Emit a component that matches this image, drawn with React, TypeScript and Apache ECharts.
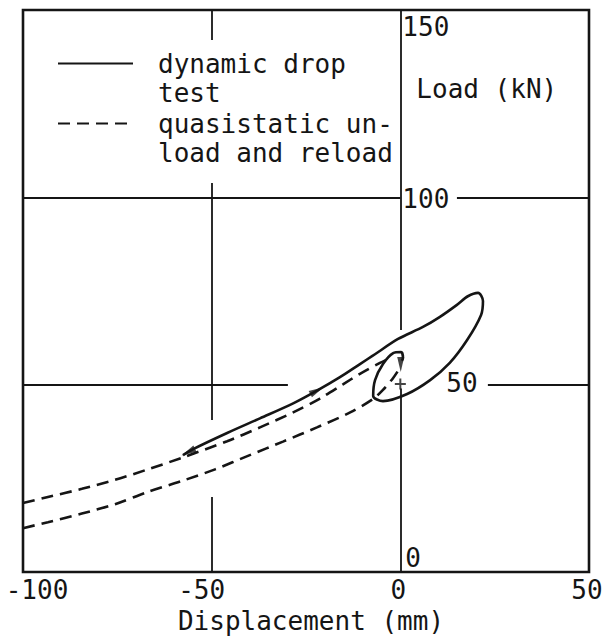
import React, { useEffect, useRef } from 'react';
import * as echarts from 'echarts';

// ---- data ----
const xTicks = { min: -100, max: 50, step: 50 };
const yTicks = { min: 0, max: 150, step: 50 };
const xAxisTitle = 'Displacement (mm)';
const yAxisTitle = 'Load (kN)';
const seriesNames = ['dynamic drop test', 'quasistatic unload and reload'];
const legendLabels = ['dynamic drop\ntest', 'quasistatic un-\nload and reload'];

// solid curve: dynamic drop test (displacement mm, load kN)
const dynamicDrop: number[][] = [
  [-57.6, 31.2], [-54.9, 32.8], [-45.9, 37.1], [-37.2, 41.0], [-28.4, 45.0],
  [-22.1, 48.4], [-16.0, 52.0], [-10.7, 55.5], [-7.2, 57.8], [-0.6, 62.2],
  [6.0, 65.4], [10.5, 68.1], [15.0, 71.3], [17.9, 73.6], [20.6, 74.5],
  [21.9, 72.3], [21.4, 68.6], [17.7, 61.9], [13.1, 55.8], [7.9, 51.2],
  [1.8, 47.5], [-4.6, 45.6], [-7.2, 47.0], [-6.7, 51.2], [-4.6, 55.5],
  [-1.9, 58.4], [0.2, 58.7], [0.7, 57.1], [0.4, 56.4],
];

// dashed curves: quasistatic reload (upper) and unload (lower)
const quasiReload: number[][] = [
  [-100, 18.4], [-93.4, 20.0], [-84.4, 22.2], [-75.6, 24.6], [-66.9, 27.4],
  [-57.6, 30.6], [-45.9, 34.9], [-37.2, 38.6], [-28.4, 42.6], [-21.3, 46.3],
  [-15.2, 50.1], [-10.7, 52.9], [-5.4, 55.8], [-2.2, 57.3],
];
const quasiUnload: number[][] = [
  [-100, 11.7], [-93.4, 13.3], [-84.4, 15.6], [-75.6, 18.1], [-66.9, 21.4],
  [-57.9, 24.3], [-49.1, 27.4], [-39.9, 31.2], [-31.1, 34.8], [-22.1, 38.6],
  [-13.3, 42.6], [-7.2, 46.2], [-4.6, 48.6], [-1.9, 51.8], [-0.3, 54.2],
];

// arrowheads on the solid curve and the cross mark
const arrowHeads: number[][] = [[-56.2, 32.0], [-22.1, 48.4], [0.1, 55.4]];
const arrowAngles = [117, -62, 180];
const crossMark: number[][] = [[0, 50.2]];

// interrupted reference lines of the original drawing
const gridSegments: number[][][] = [
  [[-100, 100], [0, 100]], [[15, 100], [50, 100]],
  [[-100, 50], [-29.8, 50]], [[23.2, 50], [50, 50]],
  [[-50, 150], [-50, 142]], [[-50, 103.8], [-50, 40.6]], [[-50, 20], [-50, 0]],
  [[0, 0], [0, 49]], [[0, 64.6], [0, 150]],
];

const FONT = "'DejaVu Sans Mono', 'Liberation Mono', monospace";
const INK = '#151515';
const FS = 26;

export default function App() {
  const ref = useRef<HTMLDivElement>(null);
  useEffect(() => {
    if (!ref.current) return;
    const chart = echarts.init(ref.current, null, { renderer: 'svg' });
    const txt = (extra: any = {}) => ({ fontFamily: FONT, fontSize: FS, color: INK, lineHeight: FS, ...extra });
    const dashed = { color: INK, width: 2.6, type: [12, 7] as any };
    const gridLeft = 23;
    const gridWidth = 566;
    // y axis drawn at x = 0 of the displacement axis
    const yAxisShift = -(gridWidth * (0 - xTicks.min)) / (xTicks.max - xTicks.min);
    chart.setOption({
      animation: false,
      backgroundColor: '#fff',
      grid: {
        left: gridLeft, top: 10, width: gridWidth, height: 562,
        show: true, borderColor: INK, borderWidth: 2.6, backgroundColor: 'transparent',
        containLabel: false, outerBoundsMode: 'none',
      },
      legend: {
        data: seriesNames,
        orient: 'vertical',
        left: 57, top: 20, padding: 0, itemGap: -27,
        itemWidth: 75, itemHeight: 14,
        selectedMode: false,
        itemStyle: { opacity: 0 },
        formatter: (n: string) => '\n' + legendLabels[seriesNames.indexOf(n)],
        textStyle: { fontFamily: FONT, fontSize: FS, lineHeight: 29, color: INK, padding: [0, 0, 0, 20] },
      },
      xAxis: {
        type: 'value', min: xTicks.min, max: xTicks.max, interval: xTicks.step,
        axisLine: { show: false, onZero: false }, axisTick: { show: false }, splitLine: { show: false },
        axisLabel: {
          margin: 5,
          formatter: (v: number) => (v === xTicks.min ? `{first|${v}}` : v < 0 ? `{neg|${v}}` : `{n|${v}}`),
          rich: {
            first: txt({ padding: [0, 0, 0, 28] }),
            neg: txt({ padding: [0, 20, 0, 0] }),
            n: txt({ padding: [0, 4, 0, 0] }),
          },
        },
        name: xAxisTitle, nameLocation: 'middle', nameGap: 36, nameMoveOverlap: false,
        nameTextStyle: txt({ padding: [0, 0, 0, 10] }),
      },
      yAxis: {
        type: 'value', min: yTicks.min, max: yTicks.max, interval: yTicks.step,
        position: 'left', offset: yAxisShift,
        axisLine: { show: false, onZero: false }, axisTick: { show: false }, splitLine: { show: false },
        axisLabel: {
          inside: true, margin: 2,
          formatter: (v: number) =>
            v === yTicks.max ? `{top|${v}}` : v === yTicks.min ? `{zero|${v}}` : v === 50 ? `{fifty|${v}}` : `{mid|${v}}`,
          rich: {
            top: txt({ padding: [34, 0, 0, 0] }),
            mid: txt({ padding: [4, 0, 0, 0] }),
            fifty: txt({ padding: [0, 0, 3, 44] }),
            zero: txt({ padding: [0, 0, 29, 3] }),
          },
        },
        name: yAxisTitle, nameLocation: 'end', nameGap: -79, nameMoveOverlap: false,
        nameTextStyle: txt({ align: 'left', verticalAlign: 'middle', padding: [0, 0, 0, 16] }),
      },
      series: [
        {
          name: 'reference lines', type: 'lines', coordinateSystem: 'cartesian2d',
          data: gridSegments.map((s) => ({ coords: s })),
          lineStyle: { color: INK, width: 1.8, opacity: 1, curveness: 0 },
          symbol: ['none', 'none'], silent: true, z: 1,
        },
        {
          name: seriesNames[0], type: 'line', data: dynamicDrop, symbol: 'none', smooth: 0.3,
          lineStyle: { color: INK, width: 2.6 }, itemStyle: { color: INK }, z: 3, silent: true,
        },
        {
          name: seriesNames[1], type: 'line', data: quasiReload, symbol: 'none', smooth: 0.3,
          lineStyle: dashed, itemStyle: { color: INK }, z: 3, silent: true,
        },
        {
          name: seriesNames[1], type: 'line', data: quasiUnload, symbol: 'none', smooth: 0.3,
          lineStyle: dashed, itemStyle: { color: INK }, z: 3, silent: true,
        },
        {
          name: 'arrows', type: 'scatter', symbol: 'triangle', symbolSize: [7, 15],
          data: arrowHeads.map((p, i) => ({ value: p, symbolRotate: arrowAngles[i] })),
          itemStyle: { color: INK }, z: 4, silent: true,
        },
        {
          name: 'cross', type: 'scatter', symbol: 'path://M5,0L5,10M0,5L10,5', symbolSize: 11,
          data: crossMark, itemStyle: { color: 'none', borderColor: INK, borderWidth: 2 }, z: 4, silent: true,
        },
      ],
    });
    return () => chart.dispose();
  }, []);
  return <div ref={ref} style={{ position: 'absolute', left: 0, top: 0, width: 603, height: 641 }} />;
}
